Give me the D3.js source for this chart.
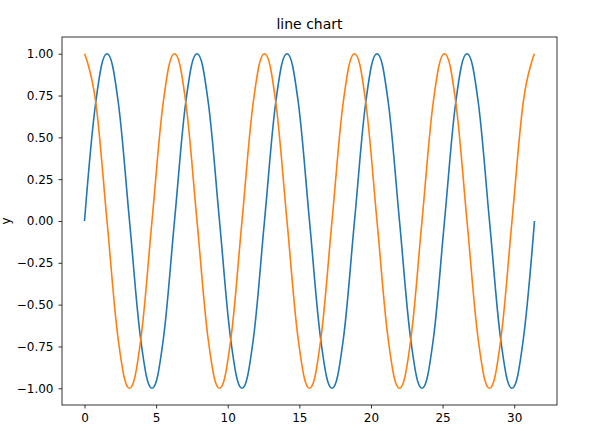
<!DOCTYPE html>
<html><head><meta charset="utf-8">
<script src="https://cdn.jsdelivr.net/npm/d3@7"></script>
<style>body{margin:0;background:#fff;font-family:"DejaVu Sans",sans-serif;}</style>
</head><body>
<div id="chart"></div>
<script>
var xs = [0,0.785,1.571,2.356,3.142,3.927,4.712,5.498,6.283,7.069,7.854,8.639,9.425,10.21,10.996,11.781,12.566,13.352,14.137,14.923,15.708,16.493,17.279,18.064,18.85,19.635,20.42,21.206,21.991,22.777,23.562,24.347,25.133,25.918,26.704,27.489,28.274,29.06,29.845,30.631,31.416];
var blueVals = [0,0.71,1,0.71,0,-0.71,-1,-0.71,0,0.71,1,0.71,0,-0.71,-1,-0.71,0,0.71,1,0.71,0,-0.71,-1,-0.71,0,0.71,1,0.71,0,-0.71,-1,-0.71,0,0.71,1,0.71,0,-0.71,-1,-0.71,0];
var orangeVals = [1,0.71,0,-0.71,-1,-0.71,0,0.71,1,0.71,0,-0.71,-1,-0.71,0,0.71,1,0.71,0,-0.71,-1,-0.71,0,0.71,1,0.71,0,-0.71,-1,-0.71,0,0.71,1,0.71,0,-0.71,-1,-0.71,0,0.71,1];
var xTicks = [0,5,10,15,20,25,30];
var yTicks = [-1,-0.75,-0.5,-0.25,0,0.25,0.5,0.75,1];

var svgWidth = 590, svgHeight = 431;
var margin = {top: 37, right: 33, bottom: 26, left: 62};
var width = svgWidth - margin.left - margin.right;
var height = svgHeight - margin.top - margin.bottom;

var svg = d3.select("#chart").append("svg")
  .attr("width", svgWidth).attr("height", svgHeight);
var g = svg.append("g").attr("transform", `translate(${margin.left},${margin.top})`);

var x = d3.scaleLinear().domain([-1.571, 32.987]).range([0, width]);
var y = d3.scaleLinear().domain([-1.1, 1.1]).range([height, 0]);

var xAxis = g.append("g").attr("transform", `translate(0,${height})`)
  .call(d3.axisBottom(x).tickValues(xTicks).tickSize(3.5).tickPadding(5).tickFormat(d3.format("d")));
var yAxis = g.append("g")
  .call(d3.axisLeft(y).tickValues(yTicks).tickSize(3.5).tickPadding(5).tickFormat(d3.format(".2f")));
[xAxis, yAxis].forEach(function(a){
  a.select(".domain").remove();
  a.selectAll("text").attr("font-size", 12).attr("fill", "#000").attr("font-family", "DejaVu Sans");
  a.selectAll("line").attr("stroke", "#000").attr("stroke-width", 0.8);
});

var line = d3.line().x(function(d){ return x(d[0]); }).y(function(d){ return y(d[1]); }).curve(d3.curveCardinal.tension(-0.15));
g.append("path").datum(xs.map(function(v,i){ return [v, blueVals[i]]; }))
  .attr("d", line).attr("fill", "none").attr("stroke", "#1f77b4").attr("stroke-width", 1.6);
g.append("path").datum(xs.map(function(v,i){ return [v, orangeVals[i]]; }))
  .attr("d", line).attr("fill", "none").attr("stroke", "#ff7f0e").attr("stroke-width", 1.6);

g.append("rect").attr("width", width).attr("height", height)
  .attr("fill", "none").attr("stroke", "#000").attr("stroke-width", 0.8);

svg.append("text").attr("x", margin.left + width / 2).attr("y", margin.top - 8)
  .attr("text-anchor", "middle").attr("font-size", 14).text("line chart");
svg.append("text").attr("transform", `translate(10,${margin.top + height / 2}) rotate(-90)`)
  .attr("text-anchor", "middle").attr("font-size", 12).text("y");
</script>
</body></html>
